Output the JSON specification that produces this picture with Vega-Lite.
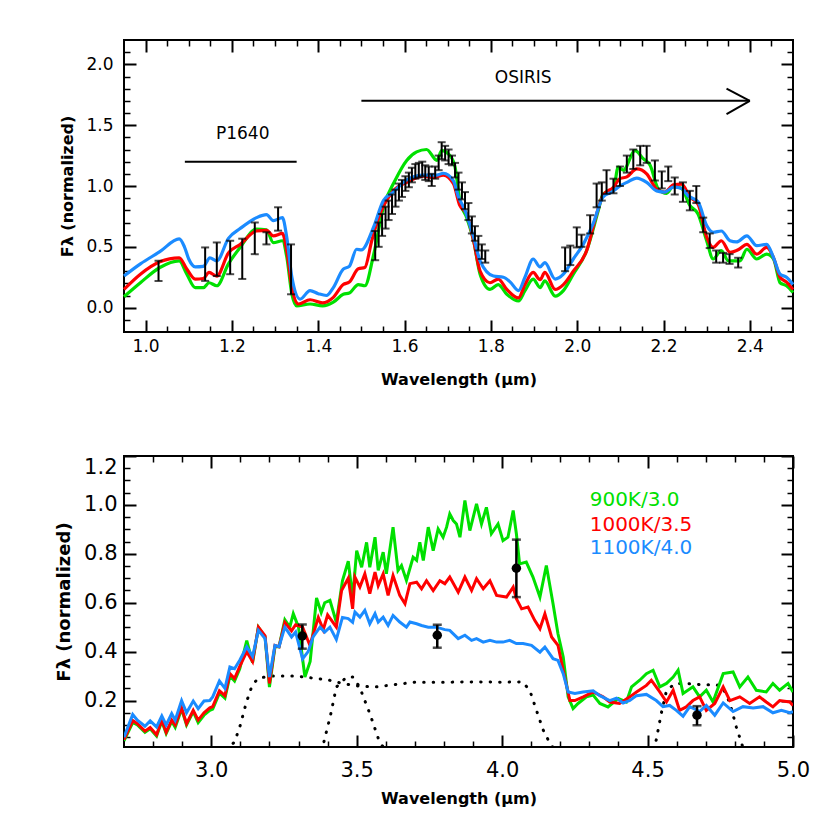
{
"$schema": "https://vega.github.io/schema/vega-lite/v6.json",
"background": "white",
"padding": {"left": 54, "top": 38, "right": 5, "bottom": 5},
"spacing": 66,
"config": {
  "font": "DejaVu Sans",
  "view": {"stroke": "black", "strokeWidth": 2},
  "axis": {"domain": false, "grid": false, "tickColor": "black", "labelColor": "black", "titleColor": "black", "labelFont": "DejaVu Sans", "titleFont": "DejaVu Sans", "labelFlush": false, "zindex": 1},
  "text": {"font": "DejaVu Sans"}
},
"datasets": {
  "topG": [{"wl":0.95,"f":0.09},{"wl":0.988,"f":0.205},{"wl":1.033,"f":0.33},{"wl":1.078,"f":0.385},{"wl":1.095,"f":0.28},{"wl":1.115,"f":0.165},{"wl":1.134,"f":0.165},{"wl":1.147,"f":0.205},{"wl":1.165,"f":0.18},{"wl":1.192,"f":0.36},{"wl":1.219,"f":0.495},{"wl":1.257,"f":0.645},{"wl":1.28,"f":0.64},{"wl":1.296,"f":0.535},{"wl":1.317,"f":0.55},{"wl":1.327,"f":0.42},{"wl":1.339,"f":0.11},{"wl":1.35,"f":0.015},{"wl":1.381,"f":0.03},{"wl":1.41,"f":0.015},{"wl":1.435,"f":0.045},{"wl":1.458,"f":0.11},{"wl":1.472,"f":0.12},{"wl":1.493,"f":0.19},{"wl":1.508,"f":0.18},{"wl":1.528,"f":0.43},{"wl":1.551,"f":0.825},{"wl":1.578,"f":1.045},{"wl":1.605,"f":1.21},{"wl":1.628,"f":1.28},{"wl":1.651,"f":1.3},{"wl":1.675,"f":1.21},{"wl":1.686,"f":1.29},{"wl":1.705,"f":1.25},{"wl":1.717,"f":1.155},{"wl":1.728,"f":0.88},{"wl":1.744,"f":0.74},{"wl":1.76,"f":0.55},{"wl":1.775,"f":0.275},{"wl":1.798,"f":0.15},{"wl":1.817,"f":0.19},{"wl":1.837,"f":0.11},{"wl":1.864,"f":0.055},{"wl":1.879,"f":0.14},{"wl":1.898,"f":0.235},{"wl":1.914,"f":0.165},{"wl":1.925,"f":0.22},{"wl":1.949,"f":0.095},{"wl":1.968,"f":0.14},{"wl":1.991,"f":0.275},{"wl":2.022,"f":0.47},{"wl":2.049,"f":0.8},{"wl":2.06,"f":0.935},{"wl":2.084,"f":0.975},{"wl":2.095,"f":1.155},{"wl":2.107,"f":1.13},{"wl":2.134,"f":1.29},{"wl":2.153,"f":1.225},{"wl":2.169,"f":1.17},{"wl":2.188,"f":0.975},{"wl":2.207,"f":0.94},{"wl":2.223,"f":1.0},{"wl":2.242,"f":0.98},{"wl":2.261,"f":0.84},{"wl":2.28,"f":0.77},{"wl":2.3,"f":0.55},{"wl":2.315,"f":0.4},{"wl":2.334,"f":0.47},{"wl":2.35,"f":0.385},{"wl":2.377,"f":0.385},{"wl":2.393,"f":0.48},{"wl":2.416,"f":0.4},{"wl":2.439,"f":0.44},{"wl":2.455,"f":0.4},{"wl":2.47,"f":0.205},{"wl":2.485,"f":0.18},{"wl":2.5,"f":0.125}],
  "topR": [{"wl":0.95,"f":0.15},{"wl":0.988,"f":0.275},{"wl":1.033,"f":0.377},{"wl":1.078,"f":0.41},{"wl":1.095,"f":0.32},{"wl":1.115,"f":0.235},{"wl":1.134,"f":0.24},{"wl":1.147,"f":0.29},{"wl":1.165,"f":0.26},{"wl":1.192,"f":0.45},{"wl":1.219,"f":0.52},{"wl":1.257,"f":0.63},{"wl":1.28,"f":0.635},{"wl":1.296,"f":0.59},{"wl":1.317,"f":0.61},{"wl":1.327,"f":0.47},{"wl":1.339,"f":0.165},{"wl":1.354,"f":0.03},{"wl":1.381,"f":0.065},{"wl":1.41,"f":0.04},{"wl":1.435,"f":0.085},{"wl":1.458,"f":0.19},{"wl":1.472,"f":0.21},{"wl":1.493,"f":0.32},{"wl":1.508,"f":0.33},{"wl":1.524,"f":0.55},{"wl":1.543,"f":0.77},{"wl":1.574,"f":0.96},{"wl":1.605,"f":1.03},{"wl":1.644,"f":1.08},{"wl":1.667,"f":1.07},{"wl":1.69,"f":1.09},{"wl":1.713,"f":1.02},{"wl":1.728,"f":0.84},{"wl":1.744,"f":0.77},{"wl":1.76,"f":0.55},{"wl":1.775,"f":0.3},{"wl":1.798,"f":0.205},{"wl":1.817,"f":0.235},{"wl":1.837,"f":0.15},{"wl":1.864,"f":0.08},{"wl":1.879,"f":0.19},{"wl":1.898,"f":0.29},{"wl":1.914,"f":0.23},{"wl":1.925,"f":0.29},{"wl":1.949,"f":0.15},{"wl":1.968,"f":0.19},{"wl":1.991,"f":0.3},{"wl":2.022,"f":0.47},{"wl":2.045,"f":0.77},{"wl":2.06,"f":0.925},{"wl":2.084,"f":0.99},{"wl":2.099,"f":1.06},{"wl":2.115,"f":1.075},{"wl":2.138,"f":1.14},{"wl":2.161,"f":1.1},{"wl":2.184,"f":0.975},{"wl":2.203,"f":0.95},{"wl":2.223,"f":1.01},{"wl":2.242,"f":1.015},{"wl":2.261,"f":0.91},{"wl":2.28,"f":0.85},{"wl":2.3,"f":0.58},{"wl":2.315,"f":0.495},{"wl":2.334,"f":0.55},{"wl":2.354,"f":0.455},{"wl":2.375,"f":0.48},{"wl":2.393,"f":0.52},{"wl":2.416,"f":0.44},{"wl":2.439,"f":0.495},{"wl":2.455,"f":0.41},{"wl":2.47,"f":0.25},{"wl":2.485,"f":0.21},{"wl":2.5,"f":0.15}],
  "topB": [{"wl":0.95,"f":0.26},{"wl":0.988,"f":0.36},{"wl":1.033,"f":0.46},{"wl":1.078,"f":0.565},{"wl":1.09,"f":0.5},{"wl":1.1,"f":0.4},{"wl":1.115,"f":0.336},{"wl":1.134,"f":0.34},{"wl":1.149,"f":0.41},{"wl":1.165,"f":0.385},{"wl":1.192,"f":0.57},{"wl":1.219,"f":0.65},{"wl":1.257,"f":0.74},{"wl":1.28,"f":0.765},{"wl":1.296,"f":0.715},{"wl":1.317,"f":0.74},{"wl":1.327,"f":0.58},{"wl":1.339,"f":0.25},{"wl":1.358,"f":0.07},{"wl":1.381,"f":0.14},{"wl":1.4,"f":0.115},{"wl":1.419,"f":0.1},{"wl":1.435,"f":0.165},{"wl":1.458,"f":0.317},{"wl":1.472,"f":0.34},{"wl":1.489,"f":0.48},{"wl":1.5,"f":0.475},{"wl":1.528,"f":0.66},{"wl":1.551,"f":0.88},{"wl":1.574,"f":0.95},{"wl":1.605,"f":1.05},{"wl":1.644,"f":1.09},{"wl":1.675,"f":1.09},{"wl":1.69,"f":1.105},{"wl":1.713,"f":1.045},{"wl":1.725,"f":0.91},{"wl":1.74,"f":0.8},{"wl":1.76,"f":0.58},{"wl":1.775,"f":0.385},{"wl":1.806,"f":0.26},{"wl":1.829,"f":0.25},{"wl":1.845,"f":0.21},{"wl":1.864,"f":0.14},{"wl":1.879,"f":0.25},{"wl":1.898,"f":0.4},{"wl":1.914,"f":0.335},{"wl":1.925,"f":0.37},{"wl":1.949,"f":0.235},{"wl":1.968,"f":0.275},{"wl":1.991,"f":0.4},{"wl":2.014,"f":0.52},{"wl":2.037,"f":0.69},{"wl":2.06,"f":0.91},{"wl":2.08,"f":0.95},{"wl":2.099,"f":1.0},{"wl":2.115,"f":1.03},{"wl":2.138,"f":1.065},{"wl":2.161,"f":1.03},{"wl":2.184,"f":0.96},{"wl":2.203,"f":0.95},{"wl":2.223,"f":0.99},{"wl":2.242,"f":0.98},{"wl":2.257,"f":0.92},{"wl":2.28,"f":0.87},{"wl":2.3,"f":0.675},{"wl":2.315,"f":0.62},{"wl":2.334,"f":0.63},{"wl":2.354,"f":0.55},{"wl":2.369,"f":0.54},{"wl":2.393,"f":0.59},{"wl":2.416,"f":0.51},{"wl":2.439,"f":0.52},{"wl":2.455,"f":0.41},{"wl":2.47,"f":0.275},{"wl":2.485,"f":0.25},{"wl":2.5,"f":0.19}],
  "topErr": [{"wl":1.03,"lo":0.22,"hi":0.385},{"wl":1.138,"lo":0.22,"hi":0.495},{"wl":1.165,"lo":0.26,"hi":0.536},{"wl":1.196,"lo":0.275,"hi":0.55},{"wl":1.224,"lo":0.236,"hi":0.567},{"wl":1.253,"lo":0.44,"hi":0.7},{"wl":1.28,"lo":0.52,"hi":0.62},{"wl":1.307,"lo":0.633,"hi":0.825},{"wl":1.337,"lo":0.11,"hi":0.52},
    {"wl":1.532,"lo":0.39,"hi":0.63},{"wl":1.54,"lo":0.5,"hi":0.7},{"wl":1.548,"lo":0.59,"hi":0.77},{"wl":1.556,"lo":0.65,"hi":0.83},{"wl":1.563,"lo":0.72,"hi":0.88},{"wl":1.571,"lo":0.77,"hi":0.93},{"wl":1.579,"lo":0.83,"hi":0.97},{"wl":1.587,"lo":0.88,"hi":1.02},{"wl":1.594,"lo":0.91,"hi":1.05},{"wl":1.602,"lo":0.96,"hi":1.08},{"wl":1.61,"lo":0.99,"hi":1.11},{"wl":1.617,"lo":1.03,"hi":1.15},{"wl":1.625,"lo":1.06,"hi":1.18},{"wl":1.633,"lo":1.07,"hi":1.19},{"wl":1.641,"lo":1.08,"hi":1.2},{"wl":1.648,"lo":1.05,"hi":1.17},{"wl":1.656,"lo":1.04,"hi":1.16},{"wl":1.663,"lo":1.0,"hi":1.1},{"wl":1.671,"lo":1.06,"hi":1.16},{"wl":1.679,"lo":1.13,"hi":1.25},{"wl":1.686,"lo":1.22,"hi":1.36},{"wl":1.694,"lo":1.21,"hi":1.33},{"wl":1.702,"lo":1.18,"hi":1.3},{"wl":1.71,"lo":1.17,"hi":1.25},{"wl":1.717,"lo":1.07,"hi":1.19},{"wl":1.725,"lo":0.97,"hi":1.11},{"wl":1.733,"lo":0.89,"hi":1.03},{"wl":1.74,"lo":0.81,"hi":0.95},{"wl":1.748,"lo":0.72,"hi":0.86},{"wl":1.756,"lo":0.61,"hi":0.75},{"wl":1.763,"lo":0.55,"hi":0.67},{"wl":1.771,"lo":0.47,"hi":0.59},{"wl":1.779,"lo":0.4,"hi":0.52},{"wl":1.787,"lo":0.37,"hi":0.47},
    {"wl":1.972,"lo":0.3,"hi":0.495},{"wl":1.984,"lo":0.35,"hi":0.51},{"wl":1.999,"lo":0.495,"hi":0.66},{"wl":2.01,"lo":0.5,"hi":0.6},{"wl":2.03,"lo":0.61,"hi":0.76},{"wl":2.045,"lo":0.825,"hi":1.02},{"wl":2.057,"lo":0.88,"hi":1.03},{"wl":2.068,"lo":0.935,"hi":1.13},{"wl":2.084,"lo":0.94,"hi":1.06},{"wl":2.099,"lo":1.0,"hi":1.16},{"wl":2.115,"lo":1.11,"hi":1.25},{"wl":2.13,"lo":1.14,"hi":1.3},{"wl":2.146,"lo":1.17,"hi":1.33},{"wl":2.161,"lo":1.19,"hi":1.33},{"wl":2.18,"lo":1.045,"hi":1.21},{"wl":2.196,"lo":0.98,"hi":1.12},{"wl":2.211,"lo":1.04,"hi":1.16},{"wl":2.226,"lo":0.93,"hi":1.07},{"wl":2.245,"lo":0.87,"hi":1.03},{"wl":2.261,"lo":0.8,"hi":0.96},{"wl":2.276,"lo":0.86,"hi":1.0},{"wl":2.292,"lo":0.62,"hi":0.74},{"wl":2.307,"lo":0.49,"hi":0.61},{"wl":2.322,"lo":0.37,"hi":0.47},{"wl":2.338,"lo":0.37,"hi":0.45},{"wl":2.353,"lo":0.36,"hi":0.44},{"wl":2.373,"lo":0.33,"hi":0.41}],
  "topSeg": [{"x1":1.091,"y1":1.2,"x2":1.35,"y2":1.2},{"x1":1.5,"y1":1.7,"x2":2.4,"y2":1.7},{"x1":2.346,"y1":1.8,"x2":2.4,"y2":1.7},{"x1":2.346,"y1":1.59,"x2":2.4,"y2":1.7}],
  "topTxt": [{"wl":1.225,"f":1.39,"label":"P1640"},{"wl":1.875,"f":1.843,"label":"OSIRIS"}],
  "botG": [{"wl":2.7,"f":0.035},{"wl":2.73,"f":0.11},{"wl":2.746,"f":0.1},{"wl":2.772,"f":0.07},{"wl":2.79,"f":0.085},{"wl":2.812,"f":0.055},{"wl":2.83,"f":0.115},{"wl":2.845,"f":0.065},{"wl":2.864,"f":0.115},{"wl":2.876,"f":0.09},{"wl":2.898,"f":0.165},{"wl":2.915,"f":0.1},{"wl":2.938,"f":0.155},{"wl":2.955,"f":0.11},{"wl":2.975,"f":0.14},{"wl":2.995,"f":0.16},{"wl":3.005,"f":0.165},{"wl":3.028,"f":0.23},{"wl":3.047,"f":0.21},{"wl":3.064,"f":0.3},{"wl":3.08,"f":0.28},{"wl":3.098,"f":0.33},{"wl":3.122,"f":0.445},{"wl":3.142,"f":0.355},{"wl":3.162,"f":0.5},{"wl":3.185,"f":0.46},{"wl":3.2,"f":0.255},{"wl":3.219,"f":0.42},{"wl":3.233,"f":0.42},{"wl":3.253,"f":0.53},{"wl":3.27,"f":0.5},{"wl":3.282,"f":0.555},{"wl":3.3,"f":0.5},{"wl":3.322,"f":0.296},{"wl":3.34,"f":0.36},{"wl":3.362,"f":0.62},{"wl":3.378,"f":0.56},{"wl":3.39,"f":0.6},{"wl":3.408,"f":0.61},{"wl":3.43,"f":0.52},{"wl":3.451,"f":0.69},{"wl":3.471,"f":0.77},{"wl":3.486,"f":0.62},{"wl":3.5,"f":0.813},{"wl":3.517,"f":0.745},{"wl":3.534,"f":0.847},{"wl":3.545,"f":0.745},{"wl":3.563,"f":0.868},{"wl":3.574,"f":0.732},{"wl":3.591,"f":0.807},{"wl":3.602,"f":0.718},{"wl":3.625,"f":0.909},{"wl":3.642,"f":0.732},{"wl":3.654,"f":0.752},{"wl":3.671,"f":0.691},{"wl":3.694,"f":0.786},{"wl":3.706,"f":0.773},{"wl":3.717,"f":0.847},{"wl":3.729,"f":0.773},{"wl":3.746,"f":0.909},{"wl":3.763,"f":0.813},{"wl":3.78,"f":0.902},{"wl":3.797,"f":0.868},{"wl":3.809,"f":0.909},{"wl":3.82,"f":0.963},{"wl":3.832,"f":0.936},{"wl":3.843,"f":0.922},{"wl":3.855,"f":0.868},{"wl":3.872,"f":1.018},{"wl":3.889,"f":0.895},{"wl":3.912,"f":1.004},{"wl":3.929,"f":0.922},{"wl":3.946,"f":0.99},{"wl":3.963,"f":0.882},{"wl":3.986,"f":0.922},{"wl":4.003,"f":0.854},{"wl":4.02,"f":0.868},{"wl":4.038,"f":0.977},{"wl":4.049,"f":0.882},{"wl":4.06,"f":0.759},{"wl":4.083,"f":0.766},{"wl":4.106,"f":0.705},{"wl":4.13,"f":0.623},{"wl":4.152,"f":0.752},{"wl":4.175,"f":0.596},{"wl":4.192,"f":0.473},{"wl":4.21,"f":0.378},{"wl":4.227,"f":0.215},{"wl":4.244,"f":0.167},{"wl":4.261,"f":0.188},{"wl":4.29,"f":0.215},{"wl":4.313,"f":0.222},{"wl":4.336,"f":0.188},{"wl":4.364,"f":0.174},{"wl":4.399,"f":0.208},{"wl":4.427,"f":0.194},{"wl":4.445,"f":0.256},{"wl":4.473,"f":0.283},{"wl":4.496,"f":0.31},{"wl":4.519,"f":0.324},{"wl":4.542,"f":0.256},{"wl":4.565,"f":0.27},{"wl":4.588,"f":0.296},{"wl":4.605,"f":0.324},{"wl":4.622,"f":0.229},{"wl":4.656,"f":0.256},{"wl":4.679,"f":0.215},{"wl":4.702,"f":0.242},{"wl":4.725,"f":0.194},{"wl":4.76,"f":0.31},{"wl":4.794,"f":0.317},{"wl":4.817,"f":0.256},{"wl":4.845,"f":0.296},{"wl":4.874,"f":0.242},{"wl":4.908,"f":0.235},{"wl":4.931,"f":0.27},{"wl":4.954,"f":0.242},{"wl":4.983,"f":0.27},{"wl":5.0,"f":0.235}],
  "botR": [{"wl":2.7,"f":0.04},{"wl":2.73,"f":0.118},{"wl":2.746,"f":0.105},{"wl":2.772,"f":0.075},{"wl":2.79,"f":0.09},{"wl":2.812,"f":0.06},{"wl":2.83,"f":0.12},{"wl":2.845,"f":0.07},{"wl":2.864,"f":0.12},{"wl":2.876,"f":0.1},{"wl":2.898,"f":0.17},{"wl":2.915,"f":0.105},{"wl":2.938,"f":0.16},{"wl":2.955,"f":0.12},{"wl":2.975,"f":0.15},{"wl":2.995,"f":0.17},{"wl":3.005,"f":0.175},{"wl":3.028,"f":0.24},{"wl":3.047,"f":0.22},{"wl":3.064,"f":0.31},{"wl":3.08,"f":0.29},{"wl":3.098,"f":0.34},{"wl":3.122,"f":0.4},{"wl":3.142,"f":0.36},{"wl":3.162,"f":0.5},{"wl":3.185,"f":0.465},{"wl":3.2,"f":0.27},{"wl":3.219,"f":0.425},{"wl":3.233,"f":0.42},{"wl":3.253,"f":0.52},{"wl":3.276,"f":0.485},{"wl":3.29,"f":0.51},{"wl":3.314,"f":0.5},{"wl":3.339,"f":0.426},{"wl":3.368,"f":0.54},{"wl":3.385,"f":0.49},{"wl":3.4,"f":0.55},{"wl":3.43,"f":0.5},{"wl":3.448,"f":0.65},{"wl":3.471,"f":0.7},{"wl":3.486,"f":0.575},{"wl":3.494,"f":0.705},{"wl":3.511,"f":0.664},{"wl":3.528,"f":0.718},{"wl":3.545,"f":0.637},{"wl":3.563,"f":0.725},{"wl":3.574,"f":0.67},{"wl":3.591,"f":0.718},{"wl":3.608,"f":0.63},{"wl":3.625,"f":0.711},{"wl":3.648,"f":0.63},{"wl":3.666,"f":0.596},{"wl":3.683,"f":0.678},{"wl":3.706,"f":0.684},{"wl":3.723,"f":0.657},{"wl":3.74,"f":0.69},{"wl":3.763,"f":0.65},{"wl":3.786,"f":0.69},{"wl":3.803,"f":0.678},{"wl":3.82,"f":0.705},{"wl":3.849,"f":0.643},{"wl":3.872,"f":0.705},{"wl":3.895,"f":0.65},{"wl":3.912,"f":0.698},{"wl":3.935,"f":0.657},{"wl":3.958,"f":0.69},{"wl":3.981,"f":0.63},{"wl":4.015,"f":0.623},{"wl":4.038,"f":0.664},{"wl":4.049,"f":0.616},{"wl":4.067,"f":0.575},{"wl":4.089,"f":0.582},{"wl":4.112,"f":0.528},{"wl":4.13,"f":0.494},{"wl":4.147,"f":0.555},{"wl":4.17,"f":0.46},{"wl":4.192,"f":0.426},{"wl":4.21,"f":0.324},{"wl":4.233,"f":0.2},{"wl":4.25,"f":0.2},{"wl":4.279,"f":0.215},{"wl":4.313,"f":0.235},{"wl":4.347,"f":0.215},{"wl":4.37,"f":0.194},{"wl":4.404,"f":0.188},{"wl":4.439,"f":0.215},{"wl":4.462,"f":0.235},{"wl":4.496,"f":0.262},{"wl":4.513,"f":0.283},{"wl":4.542,"f":0.235},{"wl":4.565,"f":0.194},{"wl":4.588,"f":0.242},{"wl":4.61,"f":0.16},{"wl":4.633,"f":0.174},{"wl":4.656,"f":0.2},{"wl":4.679,"f":0.215},{"wl":4.702,"f":0.16},{"wl":4.731,"f":0.188},{"wl":4.76,"f":0.256},{"wl":4.783,"f":0.2},{"wl":4.817,"f":0.215},{"wl":4.851,"f":0.188},{"wl":4.885,"f":0.215},{"wl":4.908,"f":0.194},{"wl":4.931,"f":0.174},{"wl":4.954,"f":0.2},{"wl":4.989,"f":0.194},{"wl":5.0,"f":0.18}],
  "botB": [{"wl":2.7,"f":0.05},{"wl":2.73,"f":0.143},{"wl":2.746,"f":0.12},{"wl":2.772,"f":0.095},{"wl":2.79,"f":0.117},{"wl":2.812,"f":0.092},{"wl":2.83,"f":0.137},{"wl":2.845,"f":0.1},{"wl":2.864,"f":0.147},{"wl":2.876,"f":0.12},{"wl":2.898,"f":0.2},{"wl":2.915,"f":0.15},{"wl":2.938,"f":0.198},{"wl":2.955,"f":0.167},{"wl":2.975,"f":0.198},{"wl":2.995,"f":0.2},{"wl":3.005,"f":0.215},{"wl":3.028,"f":0.28},{"wl":3.047,"f":0.25},{"wl":3.064,"f":0.337},{"wl":3.08,"f":0.33},{"wl":3.098,"f":0.365},{"wl":3.122,"f":0.42},{"wl":3.142,"f":0.38},{"wl":3.162,"f":0.487},{"wl":3.185,"f":0.453},{"wl":3.2,"f":0.296},{"wl":3.219,"f":0.425},{"wl":3.233,"f":0.42},{"wl":3.253,"f":0.5},{"wl":3.276,"f":0.46},{"wl":3.29,"f":0.48},{"wl":3.314,"f":0.37},{"wl":3.333,"f":0.4},{"wl":3.35,"f":0.46},{"wl":3.374,"f":0.5},{"wl":3.39,"f":0.48},{"wl":3.408,"f":0.5},{"wl":3.43,"f":0.45},{"wl":3.451,"f":0.54},{"wl":3.471,"f":0.535},{"wl":3.486,"f":0.52},{"wl":3.494,"f":0.562},{"wl":3.511,"f":0.541},{"wl":3.528,"f":0.569},{"wl":3.545,"f":0.514},{"wl":3.563,"f":0.555},{"wl":3.574,"f":0.521},{"wl":3.591,"f":0.541},{"wl":3.608,"f":0.507},{"wl":3.625,"f":0.548},{"wl":3.648,"f":0.521},{"wl":3.671,"f":0.5},{"wl":3.683,"f":0.521},{"wl":3.706,"f":0.514},{"wl":3.723,"f":0.507},{"wl":3.746,"f":0.5},{"wl":3.774,"f":0.5},{"wl":3.803,"f":0.49},{"wl":3.82,"f":0.487},{"wl":3.849,"f":0.453},{"wl":3.872,"f":0.467},{"wl":3.895,"f":0.446},{"wl":3.912,"f":0.453},{"wl":3.935,"f":0.439},{"wl":3.958,"f":0.446},{"wl":3.981,"f":0.439},{"wl":4.003,"f":0.439},{"wl":4.026,"f":0.446},{"wl":4.049,"f":0.433},{"wl":4.072,"f":0.433},{"wl":4.101,"f":0.426},{"wl":4.13,"f":0.398},{"wl":4.147,"f":0.419},{"wl":4.175,"f":0.371},{"wl":4.192,"f":0.364},{"wl":4.21,"f":0.31},{"wl":4.227,"f":0.235},{"wl":4.25,"f":0.229},{"wl":4.278,"f":0.235},{"wl":4.313,"f":0.24},{"wl":4.336,"f":0.22},{"wl":4.37,"f":0.2},{"wl":4.393,"f":0.21},{"wl":4.416,"f":0.19},{"wl":4.439,"f":0.2},{"wl":4.462,"f":0.22},{"wl":4.496,"f":0.225},{"wl":4.53,"f":0.2},{"wl":4.553,"f":0.175},{"wl":4.576,"f":0.18},{"wl":4.599,"f":0.16},{"wl":4.622,"f":0.136},{"wl":4.645,"f":0.175},{"wl":4.679,"f":0.155},{"wl":4.702,"f":0.18},{"wl":4.731,"f":0.14},{"wl":4.76,"f":0.19},{"wl":4.794,"f":0.155},{"wl":4.828,"f":0.175},{"wl":4.863,"f":0.17},{"wl":4.897,"f":0.175},{"wl":4.931,"f":0.15},{"wl":4.96,"f":0.16},{"wl":4.989,"f":0.15},{"wl":5.0,"f":0.155}],
  "filters": [{"wl":3.05,"t":0.0,"filt":"A"},{"wl":3.08,"t":0.03,"filt":"A"},{"wl":3.1,"t":0.1,"filt":"A"},{"wl":3.12,"t":0.19,"filt":"A"},{"wl":3.14,"t":0.26,"filt":"A"},{"wl":3.16,"t":0.29,"filt":"A"},{"wl":3.2,"t":0.3,"filt":"A"},{"wl":3.29,"t":0.3,"filt":"A"},{"wl":3.4,"t":0.285,"filt":"A"},{"wl":3.45,"t":0.27,"filt":"A"},{"wl":3.5,"t":0.26,"filt":"A"},{"wl":3.56,"t":0.255,"filt":"A"},{"wl":3.63,"t":0.265,"filt":"A"},{"wl":3.7,"t":0.275,"filt":"A"},{"wl":3.8,"t":0.275,"filt":"A"},{"wl":3.9,"t":0.276,"filt":"A"},{"wl":4.0,"t":0.275,"filt":"A"},{"wl":4.07,"t":0.276,"filt":"A"},{"wl":4.095,"t":0.242,"filt":"A"},{"wl":4.118,"t":0.16,"filt":"A"},{"wl":4.141,"t":0.08,"filt":"A"},{"wl":4.164,"t":0.026,"filt":"A"},{"wl":4.18,"t":0.0,"filt":"A"},
    {"wl":3.37,"t":0.0,"filt":"B"},{"wl":3.385,"t":0.02,"filt":"B"},{"wl":3.41,"t":0.14,"filt":"B"},{"wl":3.43,"t":0.255,"filt":"B"},{"wl":3.465,"t":0.296,"filt":"B"},{"wl":3.488,"t":0.296,"filt":"B"},{"wl":3.51,"t":0.255,"filt":"B"},{"wl":3.545,"t":0.147,"filt":"B"},{"wl":3.58,"t":0.025,"filt":"B"},{"wl":3.6,"t":0.0,"filt":"B"},
    {"wl":4.52,"t":0.0,"filt":"C"},{"wl":4.53,"t":0.04,"filt":"C"},{"wl":4.547,"t":0.147,"filt":"C"},{"wl":4.565,"t":0.24,"filt":"C"},{"wl":4.594,"t":0.27,"filt":"C"},{"wl":4.63,"t":0.27,"filt":"C"},{"wl":4.68,"t":0.265,"filt":"C"},{"wl":4.737,"t":0.265,"filt":"C"},{"wl":4.76,"t":0.25,"filt":"C"},{"wl":4.783,"t":0.19,"filt":"C"},{"wl":4.805,"t":0.092,"filt":"C"},{"wl":4.822,"t":0.03,"filt":"C"},{"wl":4.83,"t":0.0,"filt":"C"}],
  "botPts": [{"wl":3.313,"f":0.464,"lo":0.412,"hi":0.511},{"wl":3.777,"f":0.467,"lo":0.416,"hi":0.51},{"wl":4.049,"f":0.741,"lo":0.623,"hi":0.858},{"wl":4.67,"f":0.14,"lo":0.099,"hi":0.177}],
  "botLeg": [{"wl":4.301,"f":0.997,"label":"900K/3.0"},{"wl":4.301,"f":0.895,"label":"1000K/3.5"},{"wl":4.301,"f":0.8,"label":"1100K/4.0"}]
},
"vconcat": [
  {
    "width": 669, "height": 292,
    "resolve": {"axis": {"x": "independent", "y": "independent"}},
    "layer": [
      {"data": {"name": "topG"}, "mark": {"type": "line", "color": "#00E000", "strokeWidth": 3.2, "interpolate": "monotone"},
       "encoding": {
         "x": {"field": "wl", "type": "quantitative", "scale": {"domain": [0.95, 2.5], "nice": false, "zero": false},
               "axis": {"orient": "bottom", "values": [1.0,1.2,1.4,1.6,1.8,2.0,2.2,2.4], "format": ".1f", "ticks": false, "labelPadding": 6, "labelFontSize": 17, "title": "Wavelength (μm)", "titleFontSize": 16, "titleFontWeight": "bold", "titlePadding": 17}},
         "y": {"field": "f", "type": "quantitative", "scale": {"domain": [-0.2, 2.2], "nice": false, "zero": false},
               "axis": {"orient": "left", "values": [0,0.5,1,1.5,2], "format": ".1f", "ticks": false, "labelPadding": 11, "labelFontSize": 17, "title": "Fλ (normalized)", "titleFontSize": 16, "titleFontWeight": "bold", "titlePadding": 10}}
       }},
      {"data": {"name": "topR"}, "mark": {"type": "line", "color": "#FF0000", "strokeWidth": 3.2, "interpolate": "monotone"},
       "encoding": {
         "x": {"field": "wl", "type": "quantitative", "scale": {"domain": [0.95, 2.5], "nice": false, "zero": false},
               "axis": {"orient": "bottom", "offset": -12, "values": [1.0,1.2,1.4,1.6,1.8,2.0,2.2,2.4], "labels": false, "ticks": true, "tickSize": 12, "tickWidth": 2, "title": null}},
         "y": {"field": "f", "type": "quantitative", "scale": {"domain": [-0.2, 2.2], "nice": false, "zero": false},
               "axis": {"orient": "left", "offset": -12, "values": [0,0.5,1,1.5,2], "labels": false, "ticks": true, "tickSize": 12, "tickWidth": 2, "title": null}}
       }},
      {"data": {"name": "topB"}, "mark": {"type": "line", "color": "#1B8BFF", "strokeWidth": 3.2, "interpolate": "monotone"},
       "encoding": {
         "x": {"field": "wl", "type": "quantitative", "scale": {"domain": [0.95, 2.5], "nice": false, "zero": false},
               "axis": {"orient": "top", "offset": -12, "values": [1.0,1.2,1.4,1.6,1.8,2.0,2.2,2.4], "labels": false, "ticks": true, "tickSize": 12, "tickWidth": 2, "title": null}},
         "y": {"field": "f", "type": "quantitative", "scale": {"domain": [-0.2, 2.2], "nice": false, "zero": false},
               "axis": {"orient": "right", "offset": -12, "values": [0,0.5,1,1.5,2], "labels": false, "ticks": true, "tickSize": 12, "tickWidth": 2, "title": null}}
       }},
      {"data": {"name": "topErr"}, "mark": {"type": "rule", "color": "black", "strokeWidth": 2},
       "encoding": {
         "x": {"field": "wl", "type": "quantitative", "scale": {"domain": [0.95, 2.5], "nice": false, "zero": false},
               "axis": {"orient": "bottom", "offset": -6, "values": [1.05,1.1,1.15,1.25,1.3,1.35,1.45,1.5,1.55,1.65,1.7,1.75,1.85,1.9,1.95,2.05,2.1,2.15,2.25,2.3,2.35,2.45], "labels": false, "ticks": true, "tickSize": 6, "tickWidth": 1.5, "title": null}},
         "y": {"field": "lo", "type": "quantitative", "scale": {"domain": [-0.2, 2.2], "nice": false, "zero": false},
               "axis": {"orient": "left", "offset": -6, "values": [-0.1,0.1,0.2,0.3,0.4,0.6,0.7,0.8,0.9,1.1,1.2,1.3,1.4,1.6,1.7,1.8,1.9,2.1], "labels": false, "ticks": true, "tickSize": 6, "tickWidth": 1.5, "title": null}},
         "y2": {"field": "hi"}
       }},
      {"data": {"name": "topErr"}, "mark": {"type": "tick", "orient": "horizontal", "color": "black", "size": 8, "thickness": 2},
       "encoding": {
         "x": {"field": "wl", "type": "quantitative", "scale": {"domain": [0.95, 2.5], "nice": false, "zero": false},
               "axis": {"orient": "top", "offset": -6, "values": [1.05,1.1,1.15,1.25,1.3,1.35,1.45,1.5,1.55,1.65,1.7,1.75,1.85,1.9,1.95,2.05,2.1,2.15,2.25,2.3,2.35,2.45], "labels": false, "ticks": true, "tickSize": 6, "tickWidth": 1.5, "title": null}},
         "y": {"field": "lo", "type": "quantitative", "scale": {"domain": [-0.2, 2.2], "nice": false, "zero": false},
               "axis": {"orient": "right", "offset": -6, "values": [-0.1,0.1,0.2,0.3,0.4,0.6,0.7,0.8,0.9,1.1,1.2,1.3,1.4,1.6,1.7,1.8,1.9,2.1], "labels": false, "ticks": true, "tickSize": 6, "tickWidth": 1.5, "title": null}}
       }},
      {"data": {"name": "topErr"}, "mark": {"type": "tick", "orient": "horizontal", "color": "black", "size": 8, "thickness": 2},
       "encoding": {
         "x": {"field": "wl", "type": "quantitative", "scale": {"domain": [0.95, 2.5], "nice": false, "zero": false}, "axis": null},
         "y": {"field": "hi", "type": "quantitative", "scale": {"domain": [-0.2, 2.2], "nice": false, "zero": false}, "axis": null}
       }},
      {"data": {"name": "topSeg"}, "mark": {"type": "rule", "color": "black", "strokeWidth": 2},
       "encoding": {
         "x": {"field": "x1", "type": "quantitative", "scale": {"domain": [0.95, 2.5], "nice": false, "zero": false}, "axis": null},
         "x2": {"field": "x2"},
         "y": {"field": "y1", "type": "quantitative", "scale": {"domain": [-0.2, 2.2], "nice": false, "zero": false}, "axis": null},
         "y2": {"field": "y2"}
       }},
      {"data": {"name": "topTxt"}, "mark": {"type": "text", "color": "black", "fontSize": 17, "align": "center", "baseline": "alphabetic"},
       "encoding": {
         "x": {"field": "wl", "type": "quantitative", "scale": {"domain": [0.95, 2.5], "nice": false, "zero": false}, "axis": null},
         "y": {"field": "f", "type": "quantitative", "scale": {"domain": [-0.2, 2.2], "nice": false, "zero": false}, "axis": null},
         "text": {"field": "label"}
       }}
    ]
  },
  {
    "width": 669, "height": 291,
    "resolve": {"axis": {"x": "independent", "y": "independent"}},
    "layer": [
      {"data": {"name": "filters"}, "mark": {"type": "line", "color": "black", "strokeWidth": 3, "strokeDash": [0.5, 9], "strokeCap": "round", "clip": true},
       "encoding": {
         "x": {"field": "wl", "type": "quantitative", "scale": {"domain": [2.7, 5.0], "nice": false, "zero": false}, "axis": null},
         "y": {"field": "t", "type": "quantitative", "scale": {"domain": [0.01, 1.2], "nice": false, "zero": false}, "axis": null},
         "detail": {"field": "filt"}
       }},
      {"data": {"name": "botG"}, "mark": {"type": "line", "color": "#00E000", "strokeWidth": 3, "clip": true},
       "encoding": {
         "x": {"field": "wl", "type": "quantitative", "scale": {"domain": [2.7, 5.0], "nice": false, "zero": false},
               "axis": {"orient": "bottom", "values": [3.0,3.5,4.0,4.5,5.0], "format": ".1f", "ticks": false, "labelPadding": 12, "labelFontSize": 21, "title": "Wavelength (μm)", "titleFontSize": 16, "titleFontWeight": "bold", "titlePadding": 10}},
         "y": {"field": "f", "type": "quantitative", "scale": {"domain": [0.01, 1.2], "nice": false, "zero": false},
               "axis": {"orient": "left", "values": [0.2,0.4,0.6,0.8,1.0,1.2], "format": ".1f", "ticks": false, "labelPadding": 7, "labelFontSize": 21, "labelFlush": true, "title": "Fλ (normalized)", "titleFontSize": 18, "titleFontWeight": "bold", "titlePadding": 10}}
       }},
      {"data": {"name": "botR"}, "mark": {"type": "line", "color": "#FF0000", "strokeWidth": 3, "clip": true},
       "encoding": {
         "x": {"field": "wl", "type": "quantitative", "scale": {"domain": [2.7, 5.0], "nice": false, "zero": false},
               "axis": {"orient": "bottom", "offset": -12, "values": [3.0,3.5,4.0,4.5,5.0], "labels": false, "ticks": true, "tickSize": 12, "tickWidth": 2, "title": null}},
         "y": {"field": "f", "type": "quantitative", "scale": {"domain": [0.01, 1.2], "nice": false, "zero": false},
               "axis": {"orient": "left", "offset": -12, "values": [0.2,0.4,0.6,0.8,1.0,1.2], "labels": false, "ticks": true, "tickSize": 12, "tickWidth": 2, "title": null}}
       }},
      {"data": {"name": "botB"}, "mark": {"type": "line", "color": "#1B8BFF", "strokeWidth": 3, "clip": true},
       "encoding": {
         "x": {"field": "wl", "type": "quantitative", "scale": {"domain": [2.7, 5.0], "nice": false, "zero": false},
               "axis": {"orient": "top", "offset": -12, "values": [3.0,3.5,4.0,4.5,5.0], "labels": false, "ticks": true, "tickSize": 12, "tickWidth": 2, "title": null}},
         "y": {"field": "f", "type": "quantitative", "scale": {"domain": [0.01, 1.2], "nice": false, "zero": false},
               "axis": {"orient": "right", "offset": -12, "values": [0.2,0.4,0.6,0.8,1.0,1.2], "labels": false, "ticks": true, "tickSize": 12, "tickWidth": 2, "title": null}}
       }},
      {"data": {"name": "botPts"}, "mark": {"type": "rule", "color": "black", "strokeWidth": 2.5},
       "encoding": {
         "x": {"field": "wl", "type": "quantitative", "scale": {"domain": [2.7, 5.0], "nice": false, "zero": false},
               "axis": {"orient": "bottom", "offset": -6, "values": [2.8,2.9,3.1,3.2,3.3,3.4,3.6,3.7,3.8,3.9,4.1,4.2,4.3,4.4,4.6,4.7,4.8,4.9], "labels": false, "ticks": true, "tickSize": 6, "tickWidth": 1.5, "title": null}},
         "y": {"field": "lo", "type": "quantitative", "scale": {"domain": [0.01, 1.2], "nice": false, "zero": false},
               "axis": {"orient": "left", "offset": -6, "values": [0.05,0.1,0.15,0.25,0.3,0.35,0.45,0.5,0.55,0.65,0.7,0.75,0.85,0.9,0.95,1.05,1.1,1.15], "labels": false, "ticks": true, "tickSize": 6, "tickWidth": 1.5, "title": null}},
         "y2": {"field": "hi"}
       }},
      {"data": {"name": "botPts"}, "mark": {"type": "tick", "orient": "horizontal", "color": "black", "size": 9, "thickness": 2.5},
       "encoding": {
         "x": {"field": "wl", "type": "quantitative", "scale": {"domain": [2.7, 5.0], "nice": false, "zero": false},
               "axis": {"orient": "top", "offset": -6, "values": [2.8,2.9,3.1,3.2,3.3,3.4,3.6,3.7,3.8,3.9,4.1,4.2,4.3,4.4,4.6,4.7,4.8,4.9], "labels": false, "ticks": true, "tickSize": 6, "tickWidth": 1.5, "title": null}},
         "y": {"field": "lo", "type": "quantitative", "scale": {"domain": [0.01, 1.2], "nice": false, "zero": false},
               "axis": {"orient": "right", "offset": -6, "values": [0.05,0.1,0.15,0.25,0.3,0.35,0.45,0.5,0.55,0.65,0.7,0.75,0.85,0.9,0.95,1.05,1.1,1.15], "labels": false, "ticks": true, "tickSize": 6, "tickWidth": 1.5, "title": null}}
       }},
      {"data": {"name": "botPts"}, "mark": {"type": "tick", "orient": "horizontal", "color": "black", "size": 9, "thickness": 2.5},
       "encoding": {
         "x": {"field": "wl", "type": "quantitative", "scale": {"domain": [2.7, 5.0], "nice": false, "zero": false}, "axis": null},
         "y": {"field": "hi", "type": "quantitative", "scale": {"domain": [0.01, 1.2], "nice": false, "zero": false}, "axis": null}
       }},
      {"data": {"name": "botPts"}, "mark": {"type": "circle", "color": "black", "opacity": 1, "size": 90},
       "encoding": {
         "x": {"field": "wl", "type": "quantitative", "scale": {"domain": [2.7, 5.0], "nice": false, "zero": false}, "axis": null},
         "y": {"field": "f", "type": "quantitative", "scale": {"domain": [0.01, 1.2], "nice": false, "zero": false}, "axis": null}
       }},
      {"data": {"name": "botLeg"}, "mark": {"type": "text", "fontSize": 20, "align": "left", "baseline": "alphabetic"},
       "encoding": {
         "x": {"field": "wl", "type": "quantitative", "scale": {"domain": [2.7, 5.0], "nice": false, "zero": false}, "axis": null},
         "y": {"field": "f", "type": "quantitative", "scale": {"domain": [0.01, 1.2], "nice": false, "zero": false}, "axis": null},
         "text": {"field": "label"},
         "color": {"field": "label", "type": "nominal", "scale": {"domain": ["900K/3.0", "1000K/3.5", "1100K/4.0"], "range": ["#00E000", "#FF0000", "#1B8BFF"]}, "legend": null}
       }}
    ]
  }
]
}
